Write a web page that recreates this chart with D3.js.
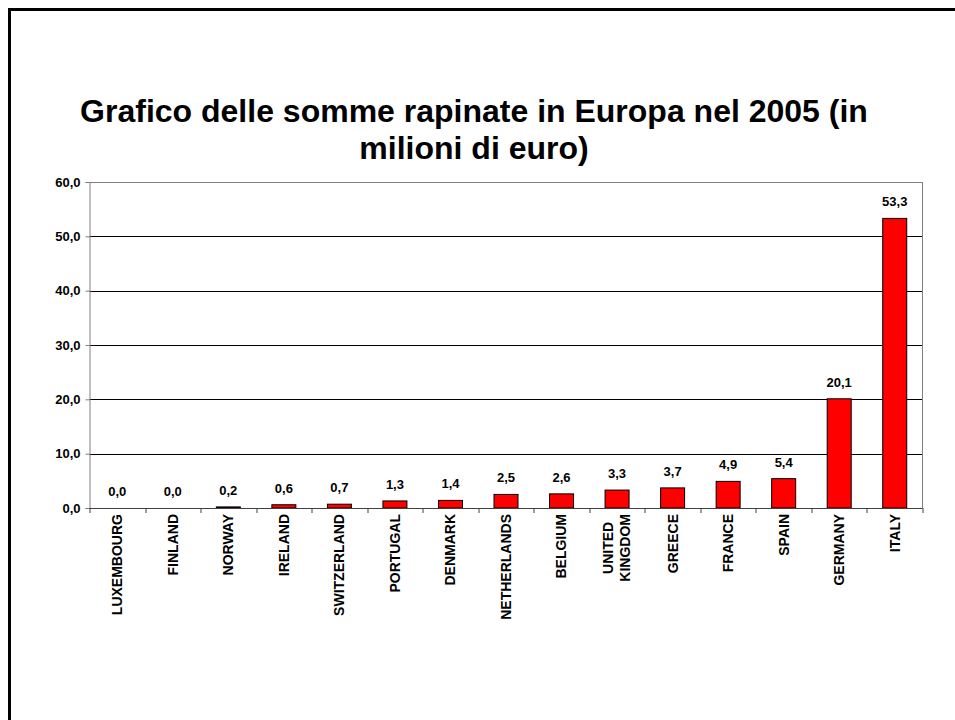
<!DOCTYPE html>
<html>
<head>
<meta charset="utf-8">
<script src="https://cdn.jsdelivr.net/npm/d3@7"></script>
<style>
  html, body { margin: 0; padding: 0; background: #fff; }
  svg { display: block; font-family: "Liberation Sans", Arial, sans-serif; }
</style>
</head>
<body>
<div id="chart"></div>
<script>
// Dati
const paesi = ["LUXEMBOURG", "FINLAND", "NORWAY", "IRELAND", "SWITZERLAND", "PORTUGAL",
  "DENMARK", "NETHERLANDS", "BELGIUM", "UNITED KINGDOM", "GREECE", "FRANCE", "SPAIN",
  "GERMANY", "ITALY"];
const somme = [0.0, 0.0, 0.2, 0.6, 0.7, 1.3, 1.4, 2.5, 2.6, 3.3, 3.7, 4.9, 5.4, 20.1, 53.3];
const tickY = [0, 10, 20, 30, 40, 50, 60];
const titolo = ["Grafico delle somme rapinate in Europa nel 2005 (in", "milioni di euro)"];

let data = paesi.map((p, i) => ({ paese: p, valore: somme[i] }));

let W = 955, H = 720;
let margin = { top: 182, right: 32.5, bottom: 212, left: 89.5 };
let width = W - margin.left - margin.right;
let height = H - margin.top - margin.bottom;

let fmt = v => v.toFixed(1).replace(".", ",");

let root = d3.select("#chart").append("svg")
  .attr("width", W)
  .attr("height", H);

// cornice della diapositiva
root.append("path")
  .attr("d", `M9.5,${H + 5} V9.5 H${W + 5}`)
  .attr("fill", "none")
  .attr("stroke", "#000")
  .attr("stroke-width", 3);

// titolo
root.append("text")
  .attr("text-anchor", "middle")
  .style("font-size", "32px")
  .style("font-weight", "bold")
  .attr("fill", "#000")
  .selectAll("tspan")
  .data(titolo)
  .enter()
  .append("tspan")
  .attr("x", 474)
  .attr("y", (d, i) => 122 + i * 37)
  .text(d => d);

let svg = root.append("g")
  .attr("transform", `translate(${margin.left},${margin.top})`);

let x = d3.scaleBand()
  .domain(paesi)
  .range([0, width])
  .padding(0);

let y = d3.scaleLinear()
  .domain([0, 60])
  .range([height, 0]);

// griglia orizzontale
svg.append("g")
  .selectAll("line")
  .data(tickY.filter(t => t > 0))
  .enter()
  .append("line")
  .attr("x1", 0)
  .attr("x2", width)
  .attr("y1", d => Math.round(y(d)) + 0.5)
  .attr("y2", d => Math.round(y(d)) + 0.5)
  .attr("stroke", d => d === 60 ? "#808080" : "#000")
  .attr("stroke-width", 1);

// bordo destro dell'area del grafico
svg.append("line")
  .attr("x1", width).attr("x2", width)
  .attr("y1", y(60)).attr("y2", y(0))
  .attr("stroke", "#808080");

// barre
let barW = 24;
svg.selectAll(".bar")
  .data(data)
  .enter()
  .append("rect")
  .attr("class", "bar")
  .attr("x", d => x(d.paese) + (x.bandwidth() - barW) / 2)
  .attr("y", d => y(d.valore))
  .attr("width", barW)
  .attr("height", d => y(0) - y(d.valore))
  .attr("fill", "#ff0000")
  .attr("stroke", d => d.valore > 0 ? "#000" : "none")
  .attr("stroke-width", 1);

// etichette dei valori
svg.selectAll(".label")
  .data(data)
  .enter()
  .append("text")
  .attr("class", "label")
  .attr("x", d => x(d.paese) + x.bandwidth() / 2)
  .attr("y", d => y(d.valore) - 12)
  .attr("text-anchor", "middle")
  .style("font-size", "13px")
  .style("font-weight", "bold")
  .attr("fill", "#000")
  .text(d => fmt(d.valore));

// asse Y
let yAxis = svg.append("g")
  .call(d3.axisLeft(y).tickValues(tickY).tickSize(4).tickPadding(5).tickFormat(fmt));
yAxis.select(".domain").attr("stroke", "#808080");
yAxis.selectAll(".tick line").attr("stroke", "#808080");
yAxis.selectAll("text")
  .style("font-size", "13px")
  .style("font-weight", "bold")
  .attr("fill", "#000")
  .style("font-family", "'Liberation Sans', Arial, sans-serif");

// asse X (tacche ai confini delle categorie)
let xg = svg.append("g")
  .attr("transform", `translate(0,${height})`);
xg.append("line")
  .attr("x1", 0).attr("x2", width)
  .attr("y1", 0.5).attr("y2", 0.5)
  .attr("stroke", "#404040");
xg.selectAll(".tk")
  .data(d3.range(paesi.length + 1))
  .enter()
  .append("line")
  .attr("class", "tk")
  .attr("x1", i => Math.round(i * x.step()) + 0.5)
  .attr("x2", i => Math.round(i * x.step()) + 0.5)
  .attr("y1", 0)
  .attr("y2", 5)
  .attr("stroke", "#404040");

// nomi dei paesi, ruotati
let lineH = 17;
let cat = xg.selectAll(".cat")
  .data(paesi)
  .enter()
  .append("text")
  .attr("class", "cat")
  .style("font-size", "14px")
  .style("font-weight", "bold")
  .attr("fill", "#000")
  .attr("text-anchor", "middle");

cat.each(function(p) {
  let el = d3.select(this);
  let righe = p === "UNITED KINGDOM" ? ["UNITED", "KINGDOM"] : [p];
  righe.forEach((r, i) => {
    el.append("tspan")
      .attr("x", 0)
      .attr("y", (i - (righe.length - 1) / 2) * lineH)
      .attr("dy", "0.35em")
      .text(r);
  });
  let lunghezza = d3.max(el.selectAll("tspan").nodes(), n => n.getComputedTextLength());
  el.selectAll("tspan").attr("x", -lunghezza / 2);
  el.attr("transform", `translate(${x(p) + x.bandwidth() / 2},6) rotate(-90)`);
});
</script>
</body>
</html>
